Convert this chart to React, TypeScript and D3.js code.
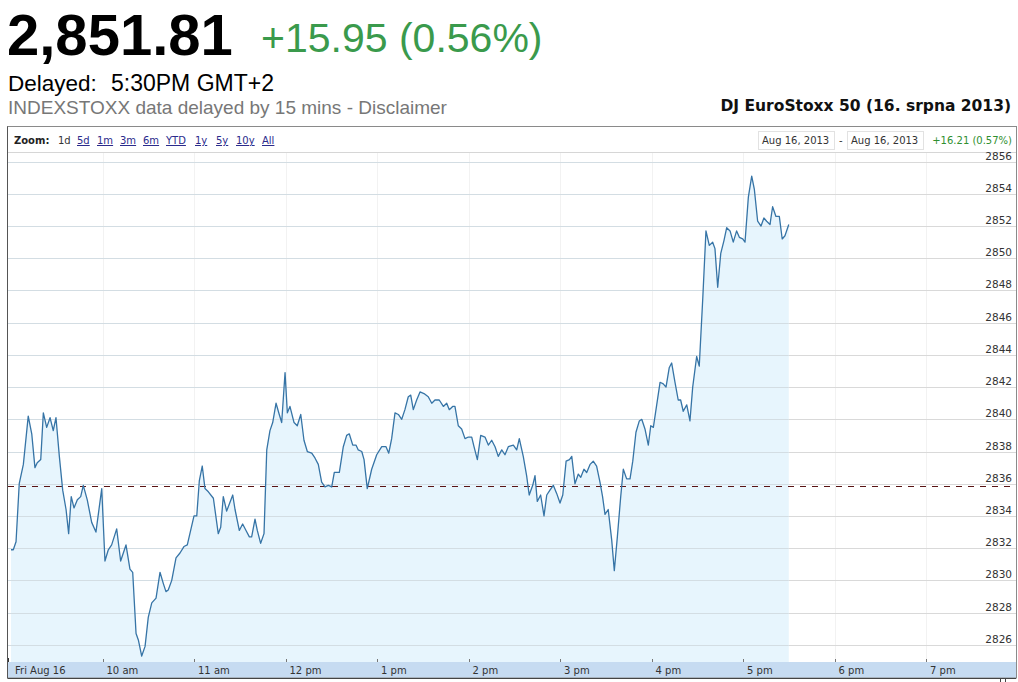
import React from "react";
import * as d3 from "d3";

// minutes after 9:00 (Fri Aug 16, 2013)
const minutes = [
  0, 1.5, 3.3, 5.4, 8.1, 11.3, 13.6, 15.7, 17.2, 19.5, 21.2, 23.4, 25.6, 27.7, 29.5, 31.7, 33.9, 36.1, 37.8, 39.5,
  41.3, 43.5, 45.7, 47.4, 50.0, 52.9, 55.7, 59.5, 61.6, 63.8, 66.0, 69.3, 71.9, 75.4, 78.0, 79.8, 82.0, 83.5, 85.7, 87.9,
  90.0, 92.3, 95.1, 97.7, 99.9, 101.6, 103.1, 105.4, 108.2, 110.8, 113.4, 115.6, 117.8, 120.0, 121.8, 123.5, 125.4, 127.2, 129.4, 132.7,
  135.9, 137.5, 139.2, 141.4, 145.4, 146.9, 149.7, 151.9, 154.1, 156.3, 157.8, 160.0, 161.5, 163.7, 165.9, 167.7, 169.8, 171.6, 173.8, 175.9,
  177.5, 179.7, 181.2, 182.9, 185.6, 187.7, 190.0, 192.1, 194.3, 197.2, 199.3, 201.5, 203.7, 205.9, 208.1, 210.3, 212.0, 215.3, 217.9, 220.1,
  221.8, 224.1, 226.2, 227.7, 230.0, 231.5, 233.6, 236.5, 239.8, 243.1, 245.9, 247.7, 249.6, 251.8, 254.0, 256.2, 258.3, 260.5, 262.1, 263.8,
  266.0, 268.2, 270.8, 273.6, 275.9, 278.0, 280.8, 283.5, 285.7, 287.4, 289.6, 291.1, 293.3, 295.5, 297.7, 299.9, 302.1, 303.6, 305.8, 308.0,
  310.8, 313.0, 315.2, 317.4, 319.5, 321.8, 323.9, 326.1, 329.4, 331.6, 333.3, 335.9, 338.1, 339.8, 342.1, 343.6, 345.1, 347.3, 349.5, 351.3,
  353.4, 355.6, 357.8, 360.0, 361.8, 364.0, 366.2, 367.7, 369.8, 372.0, 373.6, 375.7, 377.5, 379.7, 381.8, 384.0, 386.2, 387.9, 389.5, 391.6,
  393.9, 395.6, 397.6, 399.8, 401.5, 403.7, 405.9, 407.7, 409.8, 412.0, 413.6, 415.7, 417.9, 419.5, 421.2, 423.4, 425.6, 427.7, 429.5, 431.6,
  433.2, 435.4, 437.5, 439.1, 440.8, 443.1, 445.2, 447.0, 449.6, 451.3, 453.6, 455.7, 457.9, 460.1, 461.6, 463.4, 465.4, 467.5, 469.3, 471.5,
  473.6, 475.8, 477.6, 479.8, 481.3, 483.5, 485.7, 487.4, 489.6, 491.8, 493.7, 495.5, 497.7, 499.4, 501.6, 503.8, 505.7, 507.5, 510.0,
];

const values = [
  2831.9, 2831.9, 2832.4, 2836.0, 2837.2, 2840.2, 2839.1, 2837.0, 2837.3, 2837.5, 2840.4, 2839.5, 2840.1, 2839.3, 2840.1, 2837.7, 2835.6, 2834.4, 2832.9, 2835.2,
  2834.5, 2835.0, 2835.2, 2835.9, 2835.0, 2833.6, 2833.0, 2835.7, 2831.2, 2831.9, 2832.2, 2833.2, 2831.2, 2832.2, 2830.7, 2830.5, 2826.7, 2826.3, 2825.3, 2825.9,
  2827.7, 2828.6, 2828.9, 2830.5, 2829.8, 2829.3, 2829.4, 2830.0, 2831.4, 2831.7, 2832.1, 2832.2, 2833.1, 2834.0, 2834.0, 2836.2, 2837.1, 2835.7, 2835.5, 2835.1,
  2832.9, 2833.3, 2835.2, 2834.3, 2835.3, 2834.4, 2833.1, 2833.5, 2833.1, 2832.7, 2832.7, 2833.8, 2833.1, 2832.3, 2832.9, 2838.1, 2839.3, 2839.8, 2841.0, 2840.3,
  2839.8, 2842.9, 2840.4, 2840.8, 2839.8, 2839.6, 2840.3, 2838.7, 2838.0, 2837.9, 2837.6, 2837.2, 2836.1, 2835.8, 2835.9, 2835.8, 2836.7, 2836.7, 2838.3, 2839.0,
  2839.1, 2838.4, 2838.4, 2838.1, 2838.0, 2837.5, 2835.7, 2836.9, 2837.8, 2838.3, 2838.3, 2837.9, 2838.8, 2840.4, 2840.3, 2840.0, 2840.6, 2841.4, 2841.5, 2840.6,
  2841.2, 2841.7, 2841.6, 2841.4, 2841.0, 2841.2, 2841.2, 2840.8, 2841.0, 2840.6, 2840.8, 2840.8, 2839.6, 2839.4, 2838.8, 2838.9, 2838.9, 2838.3, 2837.5, 2839.0,
  2838.9, 2838.4, 2838.7, 2838.3, 2837.7, 2838.1, 2837.8, 2838.3, 2838.4, 2838.1, 2838.8, 2837.7, 2836.5, 2835.3, 2835.9, 2836.5, 2834.9, 2835.3, 2834.0, 2835.3,
  2835.6, 2835.9, 2835.4, 2834.8, 2835.3, 2837.4, 2837.5, 2837.7, 2836.0, 2836.6, 2836.4, 2836.9, 2836.7, 2837.2, 2837.4, 2837.1, 2836.1, 2835.2, 2834.1, 2834.4,
  2832.5, 2830.6, 2832.7, 2835.2, 2836.9, 2836.3, 2836.3, 2837.4, 2839.2, 2839.9, 2840.0, 2839.4, 2838.4, 2839.6, 2839.5, 2840.9, 2842.3, 2842.2, 2842.0, 2843.2,
  2843.5, 2842.3, 2841.2, 2841.2, 2840.5, 2840.9, 2839.9, 2842.0, 2843.9, 2843.3, 2847.5, 2851.7, 2850.8, 2851.0, 2850.6, 2848.2, 2850.3, 2851.1, 2851.9, 2851.7,
  2851.0, 2851.7, 2851.3, 2851.2, 2851.0, 2853.8, 2855.1, 2854.3, 2852.3, 2852.0, 2852.5, 2852.3, 2852.1, 2853.2, 2852.6, 2852.6, 2851.2, 2851.4, 2852.1,
];

const previousClose = 2835.86;
const yTicks = [2826, 2828, 2830, 2832, 2834, 2836, 2838, 2840, 2842, 2844, 2846, 2848, 2850, 2852, 2854, 2856];
const xTickMinutes = [60, 120, 180, 240, 300, 360, 420, 480, 540, 600];
const xTickLabels = ["10 am", "11 am", "12 pm", "1 pm", "2 pm", "3 pm", "4 pm", "5 pm", "6 pm", "7 pm"];
const zoomLinks = ["1d", "5d", "1m", "3m", "6m", "YTD", "1y", "5y", "10y", "All"];
const zoomLinkX = [58, 77, 97, 120, 143, 166, 195, 216, 236, 262];

const lastPrice = "2,851.81";
const change = "+15.95 (0.56%)";
const rangeChange = "+16.21 (0.57%)";

export default function App() {
  const L = 8, R = 1016, T = 152, B = 662;
  const x = d3.scaleLinear().domain([-1.97, 659]).range([L, R]);
  const y = d3.scaleLinear().domain([2824.93, 2856.6]).range([B, T]);
  const pts: [number, number][] = minutes.map((m, i) => [m, values[i]]);
  const line = d3.line<[number, number]>().x(d => x(d[0])).y(d => y(d[1]));
  const area = d3.area<[number, number]>().x(d => x(d[0])).y0(B).y1(d => y(d[1]));
  const vf = "'DejaVu Sans', Verdana, sans-serif";
  const af = "'Liberation Sans', Arial, sans-serif";
  const pcY = Math.round(y(previousClose)) + 0.5;

  return (
    <svg width={1018} height={682} style={{ position: "absolute", left: 0, top: 0, background: "#fff" }}>
      {/* header */}
      <text x={7} y={55} fontFamily={af} fontWeight="bold" fontSize={58} fill="#000">{lastPrice}</text>
      <text x={261} y={52} fontFamily={af} fontSize={41} fill="#3a9a4c">{change}</text>
      <text x={8} y={91} fontFamily={af} fontSize={22.5} fill="#000">Delayed:</text>
      <text x={111} y={91} fontFamily={af} fontSize={23} fill="#000">5:30PM GMT+2</text>
      <text x={8} y={114} fontFamily={af} fontSize={19} fill="#777">INDEXSTOXX data delayed by 15 mins - Disclaimer</text>
      <text x={1011} y={111} textAnchor="end" fontFamily={vf} fontWeight="bold" fontSize={15.5} fill="#111">DJ EuroStoxx 50 (16. srpna 2013)</text>

      {/* frame */}
      <rect x={L} y={126.5} width={R - L} height={678 - 126.5} fill="#fff" stroke="none" />
      <line x1={L} x2={R} y1={T + 0.5} y2={T + 0.5} stroke="#d6d6d6" />

      {/* zoom bar */}
      <text x={14} y={144} fontFamily={vf} fontSize={10} fontWeight="bold" fill="#222">Zoom:</text>
      {zoomLinks.map((z, i) => (
        <text key={z} x={zoomLinkX[i]} y={144} fontFamily={vf} fontSize={10}
          fill={i === 0 ? "#333" : "#2b2b8c"} textDecoration={i === 0 ? "none" : "underline"}>{z}</text>
      ))}
      <rect x={758.5} y={131.5} width={76} height={18} fill="#fff" stroke="#e2e2e2" />
      <text x={762} y={144} fontFamily={vf} fontSize={10} fill="#333">Aug 16, 2013</text>
      <text x={839} y={144} fontFamily={vf} fontSize={10} fill="#333">-</text>
      <rect x={847.5} y={131.5} width={76} height={18} fill="#fff" stroke="#e2e2e2" />
      <text x={851} y={144} fontFamily={vf} fontSize={10} fill="#333">Aug 16, 2013</text>
      <text x={1012} y={144} textAnchor="end" fontFamily={vf} fontSize={10} fill="#2f8f2f">{rangeChange}</text>

      {/* vertical grid */}
      {xTickMinutes.map(m => (
        <line key={"vg" + m} x1={Math.round(x(m)) + 0.5} x2={Math.round(x(m)) + 0.5} y1={T + 1} y2={B} stroke="#f2f2f2" />
      ))}
      {/* horizontal grid */}
      {yTicks.map(v => (
        <line key={"hg" + v} x1={L} x2={R} y1={Math.round(y(v)) + 0.5} y2={Math.round(y(v)) + 0.5} stroke="#d9d9d9" />
      ))}

      {/* area and line */}
      <path d={area(pts) || ""} fill="#e7f5fd" />
      {yTicks.map(v => (
        <line key={"hg2" + v} x1={L} x2={x(510)} y1={Math.round(y(v)) + 0.5} y2={Math.round(y(v)) + 0.5} stroke="#d3dde3" />
      ))}
      <line x1={L} x2={R - 3} y1={pcY} y2={pcY} stroke="#5a1414" strokeWidth={1.1} strokeDasharray="6,6" />
      <path d={line(pts) || ""} fill="none" stroke="#3674a6" strokeWidth={1.3} strokeLinejoin="round" />

      {/* y labels */}
      {yTicks.map(v => (
        <text key={"yl" + v} x={1012} y={Math.round(y(v)) - 2} textAnchor="end" fontFamily={vf} fontSize={10.5} fill="#333">{v}</text>
      ))}

      {/* x axis band */}
      <rect x={L} y={B} width={R - L} height={678 - B} fill="#c6dbf1" />
      <line x1={L + 0.5} x2={L + 0.5} y1={B - 4} y2={B} stroke="#333" />
      {xTickMinutes.map(m => (
        <line key={"xt" + m} x1={Math.round(x(m)) + 0.5} x2={Math.round(x(m)) + 0.5} y1={B - 3} y2={B} stroke="#777" />
      ))}
      <text x={15} y={674} fontFamily={vf} fontSize={10} fill="#333">Fri Aug 16</text>
      {xTickMinutes.map((m, i) => (
        <text key={"xl" + m} x={x(m) + 4} y={674} fontFamily={vf} fontSize={10} fill="#333">{xTickLabels[i]}</text>
      ))}

      {/* frame border */}
      <rect x={L - 0.5} y={126.5} width={R - L + 1} height={678 - 126.5} fill="none" stroke="#8a8a8a" />
      <line x1={L - 0.5} x2={L - 0.5} y1={126.5} y2={678.5} stroke="#555" />
      <line x1={L} x2={R} y1={678.5} y2={678.5} stroke="#444" />
      <line x1={1000.5} x2={1000.5} y1={679} y2={682} stroke="#444" />
      <line x1={1005.5} x2={1005.5} y1={679} y2={682} stroke="#444" />
    </svg>
  );
}
